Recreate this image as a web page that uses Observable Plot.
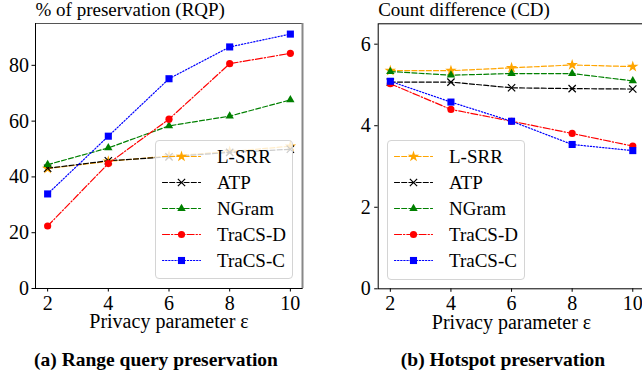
<!DOCTYPE html>
<html>
<head>
<meta charset="utf-8">
<script src="https://cdn.jsdelivr.net/npm/d3@7"></script>
<script src="https://cdn.jsdelivr.net/npm/@observablehq/plot@0.6"></script>
<style>
  html, body { margin: 0; padding: 0; background: #fff; overflow: hidden; }
  #wrap { position: relative; width: 642px; height: 379px; overflow: hidden; font-family: "Liberation Serif", serif; color: #000; }
  .panel { position: absolute; top: 0; }
  .panel svg, .legend svg { display: block; max-width: none !important; }
  .legend { position: absolute; border: 1px solid #d4d4d4; border-radius: 4px; background: rgba(255,255,255,0.8); box-sizing: border-box; }
  .caption { position: absolute; font-weight: bold; font-size: 19.5px; white-space: nowrap; transform: translate(-50%, -50%); }
</style>
</head>
<body>
<div id="wrap">
  <div id="left" class="panel" style="left:0px"></div>
  <div id="right" class="panel" style="left:321px"></div>
  <div id="legendLeft" class="legend" style="left:155px;top:140px;width:138px;height:139px"></div>
  <div id="legendRight" class="legend" style="left:387px;top:140px;width:138px;height:140px"></div>
  <div class="caption" style="left:156px;top:360px">(a) Range query preservation</div>
  <div class="caption" style="left:503px;top:360px">(b) Hotspot preservation</div>
</div>
<script>
// Privacy parameter values on the x axis
const epsilon = [2, 4, 6, 8, 10];
const methods = ["L-SRR", "ATP", "NGram", "TraCS-D", "TraCS-C"];

// Range query preservation (%), one array per method
const rqpLSRR   = [43.0, 45.6, 47.5, 49.1, 51.0];
const rqpATP    = [43.1, 45.8, 47.2, 48.8, 49.9];
const rqpNGram  = [44.4, 50.4, 58.3, 61.8, 67.6];
const rqpTraCSD = [22.4, 44.8, 60.7, 80.6, 84.3];
const rqpTraCSC = [33.9, 54.6, 75.2, 86.6, 91.2];

// Hotspot count difference, one array per method
const cdLSRR   = [5.35, 5.35, 5.42, 5.49, 5.45];
const cdATP    = [5.07, 5.07, 4.93, 4.91, 4.90];
const cdNGram  = [5.33, 5.24, 5.28, 5.28, 5.10];
const cdTraCSD = [5.03, 4.40, 4.11, 3.81, 3.50];
const cdTraCSC = [5.09, 4.58, 4.11, 3.54, 3.39];

const rqpTicks = [0, 20, 40, 60, 80];
const cdTicks = [0, 2, 4, 6];

// Per-method drawing style
const style = {
  "L-SRR":   {color: "orange", symbol: "star",     r: 3.6, dash: "5,2.2"},
  "ATP":     {color: "black",  symbol: "times",    r: 3.4, dash: "5,2.2"},
  "NGram":   {color: "green",  symbol: "triangle", r: 3.1, dash: "5,2.2"},
  "TraCS-D": {color: "red",    symbol: "circle",   r: 3.6, dash: "7,2,1.3,2"},
  "TraCS-C": {color: "blue",   symbol: "square",   r: 4.0, dash: "1.3,1.8"}
};

function toRows(series) {
  return methods.flatMap((m, i) => epsilon.map((e, j) => ({method: m, eps: e, value: series[i][j]})));
}

function seriesMarks(rows) {
  const marks = [];
  for (const m of methods) {
    const s = style[m];
    const data = rows.filter(d => d.method === m);
    marks.push(Plot.line(data, {x: "eps", y: "value", stroke: s.color, strokeWidth: 1.2, strokeDasharray: s.dash}));
    if (s.symbol === "times") {
      marks.push(Plot.dot(data, {x: "eps", y: "value", symbol: s.symbol, r: s.r, stroke: s.color, strokeWidth: 1.2}));
    } else {
      marks.push(Plot.dot(data, {x: "eps", y: "value", symbol: s.symbol, r: s.r, fill: s.color, stroke: "none"}));
    }
  }
  return marks;
}

const fontStyle = {fontFamily: "'Liberation Serif', serif", fontSize: "20px", color: "black", background: "transparent", overflow: "visible", maxWidth: "none"};
const fmt = d => String(d);

// (a) range query preservation
const left = Plot.plot({
  width: 321, height: 340,
  marginLeft: 35, marginRight: 19, marginTop: 23, marginBottom: 52,
  style: fontStyle,
  x: {domain: [1.6, 10.4]},
  y: {domain: [0, 95]},
  marks: [
    ...seriesMarks(toRows([rqpLSRR, rqpATP, rqpNGram, rqpTraCSD, rqpTraCSC])),
    Plot.frame({stroke: "#555"}),
    Plot.ruleX([10.4], {stroke: "#888", strokeWidth: 2}),
    Plot.ruleX([1.6], {stroke: "black"}),
    Plot.ruleY([0], {stroke: "black"}),
    Plot.axisX({ticks: epsilon, tickFormat: fmt, tickSize: 3.5, tickPadding: 3.7, label: null}),
    Plot.axisY({ticks: rqpTicks, tickFormat: fmt, tickSize: 3.5, tickPadding: 3, label: null}),
    Plot.text(["% of preservation (RQP)"], {frameAnchor: "top-left", lineAnchor: "middle", dy: -13.5, textAnchor: "start", fontSize: 19}),
    Plot.text(["Privacy parameter ε"], {frameAnchor: "bottom", lineAnchor: "middle", dy: 33.5, fontSize: 20})
  ]
});
document.getElementById("left").append(left);

// (b) hotspot preservation
const right = Plot.plot({
  width: 330, height: 340,
  marginLeft: 56.7, marginRight: 6.6, marginTop: 23.3, marginBottom: 51.7,
  style: fontStyle,
  x: {domain: [1.6, 10.4]},
  y: {domain: [0, 6.5]},
  marks: [
    ...seriesMarks(toRows([cdLSRR, cdATP, cdNGram, cdTraCSD, cdTraCSC])),
    Plot.frame({stroke: "black"}),
    Plot.axisX({ticks: epsilon, tickFormat: fmt, tickSize: 3.5, tickPadding: 3.7, label: null}),
    Plot.axisY({ticks: cdTicks, tickFormat: fmt, tickSize: 3.5, tickPadding: 4, label: null}),
    Plot.text(["Count difference (CD)"], {frameAnchor: "top-left", lineAnchor: "middle", dy: -13.5, textAnchor: "start", fontSize: 19}),
    Plot.text(["Privacy parameter ε"], {frameAnchor: "bottom", lineAnchor: "middle", dy: 33.5, fontSize: 20})
  ]
});
document.getElementById("right").append(right);

// Legend: a short line sample with its marker, then the method name
function legend(w, h) {
  const rows = methods.flatMap(m => [{method: m, t: 0}, {method: m, t: 1}]);
  const marks = [];
  for (const m of methods) {
    const s = style[m];
    const data = rows.filter(d => d.method === m);
    marks.push(Plot.line(data, {x: "t", y: "method", stroke: s.color, strokeWidth: 1.2, strokeDasharray: s.dash}));
    const mid = [{method: m, t: 0.5}];
    if (s.symbol === "times") {
      marks.push(Plot.dot(mid, {x: "t", y: "method", symbol: s.symbol, r: s.r, stroke: s.color, strokeWidth: 1.2}));
    } else {
      marks.push(Plot.dot(mid, {x: "t", y: "method", symbol: s.symbol, r: s.r, fill: s.color, stroke: "none"}));
    }
  }
  marks.push(Plot.text(methods, {x: () => 1, y: d => d, text: d => d, dx: 16.5, textAnchor: "start", lineAnchor: "middle", fontSize: 19}));
  return Plot.plot({
    width: w, height: h, margin: 0,
    style: {fontFamily: "'Liberation Serif', serif", fontSize: "19px", color: "black", background: "transparent", overflow: "visible", maxWidth: "none"},
    x: {domain: [0, 1], range: [6, 44], axis: null},
    y: {type: "point", domain: methods, range: [14, 119], padding: 0, axis: null},
    marks
  });
}
document.getElementById("legendLeft").append(legend(136, 137));
document.getElementById("legendRight").append(legend(136, 138));
</script>
</body>
</html>
